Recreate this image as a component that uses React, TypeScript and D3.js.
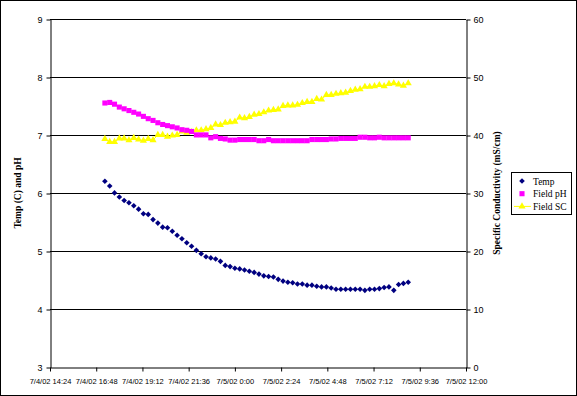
import React, { useEffect, useRef } from 'react';
import * as d3 from 'd3';

// sample times, 15 minute readings
const times = [
  '7/4/02 17:15', '7/4/02 17:30', '7/4/02 17:45', '7/4/02 18:00', '7/4/02 18:15', '7/4/02 18:30',
  '7/4/02 18:45', '7/4/02 19:00', '7/4/02 19:15', '7/4/02 19:30', '7/4/02 19:45', '7/4/02 20:00',
  '7/4/02 20:15', '7/4/02 20:30', '7/4/02 20:45', '7/4/02 21:00', '7/4/02 21:15', '7/4/02 21:30',
  '7/4/02 21:45', '7/4/02 22:00', '7/4/02 22:15', '7/4/02 22:30', '7/4/02 22:45', '7/4/02 23:00',
  '7/4/02 23:15', '7/4/02 23:30', '7/4/02 23:45', '7/5/02 0:00', '7/5/02 0:15', '7/5/02 0:30',
  '7/5/02 0:45', '7/5/02 1:00', '7/5/02 1:15', '7/5/02 1:30', '7/5/02 1:45', '7/5/02 2:00',
  '7/5/02 2:15', '7/5/02 2:30', '7/5/02 2:45', '7/5/02 3:00', '7/5/02 3:15', '7/5/02 3:30',
  '7/5/02 3:45', '7/5/02 4:00', '7/5/02 4:15', '7/5/02 4:30', '7/5/02 4:45', '7/5/02 5:00',
  '7/5/02 5:15', '7/5/02 5:30', '7/5/02 5:45', '7/5/02 6:00', '7/5/02 6:15', '7/5/02 6:30',
  '7/5/02 6:45', '7/5/02 7:00', '7/5/02 7:15', '7/5/02 7:30', '7/5/02 7:45', '7/5/02 8:00',
  '7/5/02 8:15', '7/5/02 8:30', '7/5/02 8:45', '7/5/02 9:00',
];

const temp = [
  6.21, 6.13, 6.01, 5.94, 5.88, 5.84, 5.79, 5.73, 5.65, 5.64, 5.55, 5.49,
  5.42, 5.41, 5.35, 5.28, 5.22, 5.15, 5.09, 5.02, 4.96, 4.91, 4.89, 4.87,
  4.83, 4.76, 4.74, 4.71, 4.70, 4.68, 4.66, 4.64, 4.61, 4.58, 4.57, 4.56,
  4.52, 4.49, 4.47, 4.46, 4.44, 4.44, 4.42, 4.42, 4.40, 4.39, 4.39, 4.37,
  4.35, 4.35, 4.35, 4.35, 4.35, 4.35, 4.33, 4.35, 4.35, 4.36, 4.38, 4.39,
  4.33, 4.43, 4.45, 4.47,
];

const fieldPH = [
  7.56, 7.57, 7.54, 7.49, 7.46, 7.43, 7.40, 7.37, 7.33, 7.29, 7.26, 7.22,
  7.19, 7.17, 7.15, 7.13, 7.10, 7.09, 7.07, 7.01, 7.01, 7.01, 6.96, 6.98,
  6.95, 6.94, 6.92, 6.92, 6.93, 6.93, 6.93, 6.93, 6.91, 6.91, 6.93, 6.91,
  6.91, 6.91, 6.91, 6.91, 6.91, 6.91, 6.91, 6.93, 6.93, 6.93, 6.93, 6.94,
  6.94, 6.95, 6.95, 6.95, 6.95, 6.97, 6.97, 6.96, 6.96, 6.97, 6.96, 6.96,
  6.96, 6.96, 6.96, 6.96,
];

const fieldSC = [
  39.4, 38.9, 38.9, 39.5, 39.5, 39.2, 39.6, 39.3, 39.1, 39.4, 39.2, 40.1,
  40.1, 39.8, 40.0, 40.1, 40.7, 40.5, 40.6, 40.9, 40.9, 41.1, 41.3, 41.9,
  41.8, 42.2, 42.3, 42.4, 43.1, 43.0, 43.2, 43.6, 43.7, 44.0, 44.3, 44.4,
  44.5, 45.1, 45.2, 45.2, 45.3, 45.6, 45.8, 45.8, 46.3, 46.2, 47.0, 47.0,
  47.2, 47.3, 47.4, 47.7, 47.9, 48.0, 48.4, 48.4, 48.5, 48.7, 48.5, 48.9,
  49.0, 48.8, 48.6, 49.0,
];

const xTickLabels = [
  '7/4/02 14:24', '7/4/02 16:48', '7/4/02 19:12', '7/4/02 21:36', '7/5/02 0:00',
  '7/5/02 2:24', '7/5/02 4:48', '7/5/02 7:12', '7/5/02 9:36', '7/5/02 12:00',
];
const leftTicks = [3, 4, 5, 6, 7, 8, 9];
const rightTicks = [0, 10, 20, 30, 40, 50, 60];
const seriesNames = ['Temp', 'Field pH', 'Field SC'];

const parse = d3.timeParse('%m/%d/%y %H:%M');

export default function App() {
  const ref = useRef<SVGSVGElement>(null);

  useEffect(() => {
    const W = 577, H = 396;
    const svg = d3.select(ref.current);
    svg.selectAll('*').remove();
    svg.attr('width', W).attr('height', H);

    const sans = 'Liberation Sans, Arial, sans-serif';
    const serif = 'Liberation Serif, Times New Roman, serif';

    const tickDates = xTickLabels.map(s => parse(s) as Date);
    const x = d3.scaleTime()
      .domain([tickDates[0], tickDates[tickDates.length - 1]])
      .range([50, 466]);
    const yL = d3.scaleLinear().domain([3, 9]).range([367.5, 19.5]);
    const yR = d3.scaleLinear().domain([0, 60]).range([367.5, 19.5]);

    // outer frame
    svg.append('rect')
      .attr('x', 0.5).attr('y', 0.5)
      .attr('width', W - 1).attr('height', H - 1)
      .attr('fill', 'white').attr('stroke', 'black');

    // gridlines
    svg.append('g')
      .selectAll('line')
      .data(leftTicks.slice(1))
      .join('line')
      .attr('x1', 50).attr('x2', 466)
      .attr('y1', d => yL(d)).attr('y2', d => yL(d))
      .attr('stroke', 'black');

    // left axis
    const gL = svg.append('g')
      .attr('transform', 'translate(50.5,0)')
      .call(d3.axisLeft(yL).tickValues(leftTicks).tickFormat(d3.format('d'))
        .tickSize(4).tickSizeOuter(0).tickPadding(4));
    gL.selectAll('text').attr('font-family', sans).attr('font-size', 9);

    // right axis
    const gR = svg.append('g')
      .attr('transform', 'translate(466.5,0)')
      .call(d3.axisRight(yR).tickValues(rightTicks).tickFormat(d3.format('d'))
        .tickSize(4).tickSizeOuter(0).tickPadding(3));
    gR.selectAll('text').attr('font-family', sans).attr('font-size', 9);

    // bottom axis
    const gB = svg.append('g')
      .attr('transform', `translate(0,${yL(3)})`)
      .call(d3.axisBottom(x).tickValues(tickDates).tickSize(4).tickSizeOuter(0).tickPadding(7)
        .tickFormat((_, i) => xTickLabels[i]));
    gB.selectAll('text').attr('font-family', sans).attr('font-size', 7.5);

    // axis titles
    svg.append('text')
      .attr('transform', `translate(21,193) rotate(-90)`)
      .attr('text-anchor', 'middle')
      .attr('font-family', serif).attr('font-weight', 'bold').attr('font-size', 9.5)
      .text('Temp (C) and pH');
    svg.append('text')
      .attr('transform', `translate(500,193) rotate(-90)`)
      .attr('text-anchor', 'middle')
      .attr('font-family', serif).attr('font-weight', 'bold').attr('font-size', 9.5)
      .text('Specific Conductivity (mS/cm)');

    const dates = times.map(s => parse(s) as Date);

    // Field SC line + triangles
    const line = d3.line<number>()
      .x((_, i) => x(dates[i]))
      .y(d => yR(d));
    svg.append('path')
      .datum(fieldSC)
      .attr('fill', 'none').attr('stroke', '#FFFF00').attr('stroke-width', 1)
      .attr('d', line);

    const tri = d3.symbol().type(d3.symbolTriangle).size(22)();
    const sq = d3.symbol().type(d3.symbolSquare).size(26)();
    const dia = d3.symbol().type(d3.symbolDiamond2).size(20)();

    svg.append('g').selectAll('path')
      .data(fieldSC).join('path')
      .attr('d', tri)
      .attr('transform', (d, i) => `translate(${x(dates[i])},${yR(d)})`)
      .attr('fill', '#FFFF00');

    svg.append('g').selectAll('path')
      .data(fieldPH).join('path')
      .attr('d', sq)
      .attr('transform', (d, i) => `translate(${x(dates[i])},${yL(d)})`)
      .attr('fill', '#FF00FF');

    svg.append('g').selectAll('path')
      .data(temp).join('path')
      .attr('d', dia)
      .attr('transform', (d, i) => `translate(${x(dates[i])},${yL(d)})`)
      .attr('fill', '#000080');

    // legend
    const lg = svg.append('g');
    lg.append('rect')
      .attr('x', 511.5).attr('y', 172.5).attr('width', 60).attr('height', 42)
      .attr('fill', 'white').attr('stroke', 'black');
    const marks = [dia, sq, tri];
    const colors = ['#000080', '#FF00FF', '#FFFF00'];
    seriesNames.forEach((name, i) => {
      const cy = 181 + i * 12.7;
      if (i === 2) {
        lg.append('line').attr('x1', 514).attr('x2', 531).attr('y1', cy).attr('y2', cy)
          .attr('stroke', colors[i]);
      }
      lg.append('path').attr('d', marks[i])
        .attr('transform', `translate(522,${cy})`).attr('fill', colors[i]);
      lg.append('text')
        .attr('x', 533).attr('y', cy + 3.5)
        .attr('font-family', serif).attr('font-size', 9.5)
        .text(name);
    });
  }, []);

  return (
    <div style={{ position: 'absolute', left: 0, top: 0 }}>
      <svg ref={ref} style={{ display: 'block' }} />
    </div>
  );
}
